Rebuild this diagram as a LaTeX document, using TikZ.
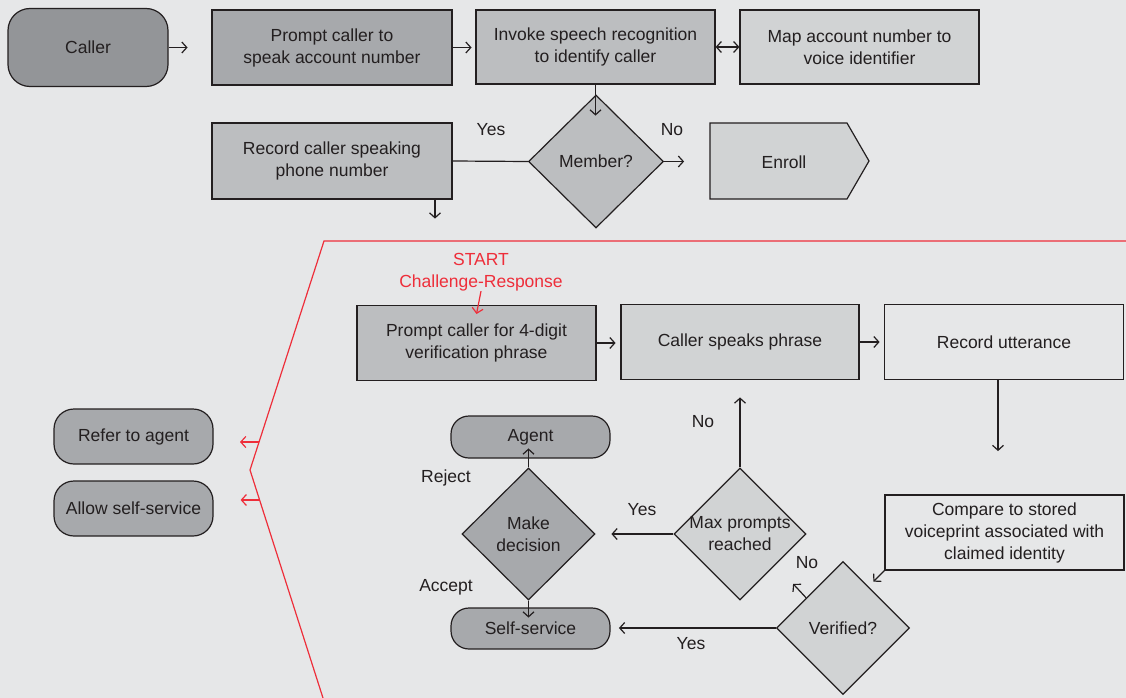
\documentclass[tikz,border=0pt]{standalone}
\usepackage{fontspec}
\setmainfont{Liberation Sans}
\usetikzlibrary{arrows.meta,shapes.geometric,calc}
\definecolor{bg}{HTML}{E6E7E8}
\definecolor{gA}{HTML}{939598}
\definecolor{gB}{HTML}{A7A9AC}
\definecolor{gC}{HTML}{BCBEC0}
\definecolor{gD}{HTML}{D1D3D4}
\definecolor{ink}{HTML}{231F20}
\definecolor{rd}{HTML}{EE2E3A}
\begin{document}
\begin{tikzpicture}[x=1pt,y=-1pt,
  font=\fontsize{17.5}{22}\selectfont, text=ink,
  box/.style={draw=ink,line width=1.2pt,rectangle,inner sep=0pt,align=center},
  rbox/.style={box,rounded corners=#1},
  dia/.style={draw=ink,line width=1.2pt,diamond,inner sep=0pt},
  txt/.style={inner sep=0pt,align=center},
  arr/.style={draw=ink,line width=1.2pt,-{Straight Barb[length=5pt,width=11pt]}},
  darr/.style={draw=ink,line width=1.2pt,{Straight Barb[length=5pt,width=11pt]}-{Straight Barb[length=5pt,width=11pt]}},
  rarr/.style={draw=rd,line width=1.2pt,-{Straight Barb[length=5pt,width=11pt]}}]
\useasboundingbox (0,0) rectangle (1126,698);
\fill[bg] (0,0) rectangle (1126,698);

% red outline of the challenge-response area
\draw[rd,line width=1.2pt] (1126,241) -- (324,241) -- (250,470) -- (323,698);

% ---------- top section ----------
\node[rbox=22pt,fill=gA,minimum width=160pt,minimum height=78pt] (caller) at (88,47.5) {Caller};
\node[box,fill=gB,minimum width=240pt,minimum height=75pt] (prompt) at (332,47.5) {Prompt caller to\\speak account number};
\node[box,fill=gC,minimum width=239pt,minimum height=74pt] (invoke) at (595.5,47) {Invoke speech recognition\\to identify caller};
\node[box,fill=gD,minimum width=239pt,minimum height=74pt] (map) at (859.5,47) {Map account number to\\voice identifier};
\node[box,fill=gC,minimum width=240pt,minimum height=76pt] (record) at (332,161) {Record caller speaking\\phone number};
\node[dia,fill=gC,minimum width=135pt,minimum height=133pt] (member) at (596,161.5) {};
\node[txt] at (member) {Member?};
\draw[line width=1.2pt,draw=ink,fill=gD] (710,123) -- (847,123) -- (869,161) -- (847,199) -- (710,199) -- cycle;
\node[txt] (enroll) at (784,162) {Enroll};

\draw[arr] (caller.east) -- ++(19,0);
\draw[arr] (prompt.east) -- ++(19,0);
\draw[darr] (invoke.east) -- (map.west);
\draw[arr] (invoke.south) -- ++(0,31);
\draw[line width=1.2pt,draw=ink] (record.east) -- (member.west);
\draw[arr] (member.east) -- ++(20,0);
\draw[arr] ($(record.south)+(103,0)$) -- ++(0,19);
\node[txt] (yes1) at (491,130) {Yes};
\node[txt] (no1) at (672,130) {No};

% ---------- challenge-response section ----------
\node[txt,text=rd] (start) at (481,272) {START\\Challenge-Response};
\node[box,fill=gC,minimum width=239pt,minimum height=75pt] (prompt2) at (476.5,343) {Prompt caller for 4-digit\\verification phrase};
\node[box,fill=gD,minimum width=238pt,minimum height=75pt] (speaks) at (740,342) {Caller speaks phrase};
\node[box,minimum width=239pt,minimum height=75pt] (recutt) at (1004,342) {Record utterance};
\node[box,minimum width=239pt,minimum height=75pt] (compare) at (1004.5,532.5) {Compare to stored\\voiceprint associated with\\claimed identity};
\node[dia,fill=gD,minimum width=133pt,minimum height=133pt] (verified) at (843,628) {};
\node[txt] at (verified) {Verified?};
\node[dia,fill=gD,minimum width=132pt,minimum height=132pt] (maxp) at (740,534) {};
\node[txt] at (maxp) {Max prompts\\reached};
\node[dia,fill=gB,minimum width=133pt,minimum height=132pt] (make) at (528.5,534) {};
\node[txt] at (make) {Make\\decision};
\node[rbox=18pt,fill=gB,minimum width=159pt,minimum height=42pt] (agent) at (530.5,437) {Agent};
\node[rbox=18pt,fill=gB,minimum width=159pt,minimum height=41pt] (self) at (530.5,628.5) {Self-service};
\node[rbox=20pt,fill=gB,minimum width=159pt,minimum height=55pt] (refer) at (133.5,436.5) {Refer to agent};
\node[rbox=20pt,fill=gB,minimum width=159pt,minimum height=55pt] (allow) at (133.5,508.5) {Allow self-service};

\draw[rarr] (start.south) -- (prompt2.north |- 0,314);
\draw[arr] (prompt2.east) -- ++(19,0);
\draw[arr] (speaks.east) -- ++(20,0);
\draw[arr] ($(recutt.south)+(-6,0)$) -- ++(0,71);
\draw[arr] (compare.south west) -- ++(-11,11);
\draw[arr] (verified.west) -- ++(-157,0);
\draw[arr] ($(verified.west)!0.45!(verified.north)$) -- ++(-13,-14);
\draw[arr] (maxp.north) -- ++(0,-70);
\draw[arr] (maxp.west) -- ++(-62,0);
\draw[arr] (make.north) -- ++(0,-19);
\draw[arr] (make.south) -- ++(0,17);
\coordinate (r1) at (259,442);
\coordinate (r2) at (259.6,500);
\draw[rarr] (r1) -- ++(-19,0);
\draw[rarr] (r2) -- ++(-19,0);

\node[txt] (no2) at (703,422) {No};
\node[txt] (yes2) at (642,510) {Yes};
\node[txt] (rej) at (446,478) {Reject};
\node[txt] (acc) at (446,587) {Accept};
\node[txt] (no3) at (807,563) {No};
\node[txt] (yes3) at (691,644) {Yes};
\end{tikzpicture}
\end{document}
